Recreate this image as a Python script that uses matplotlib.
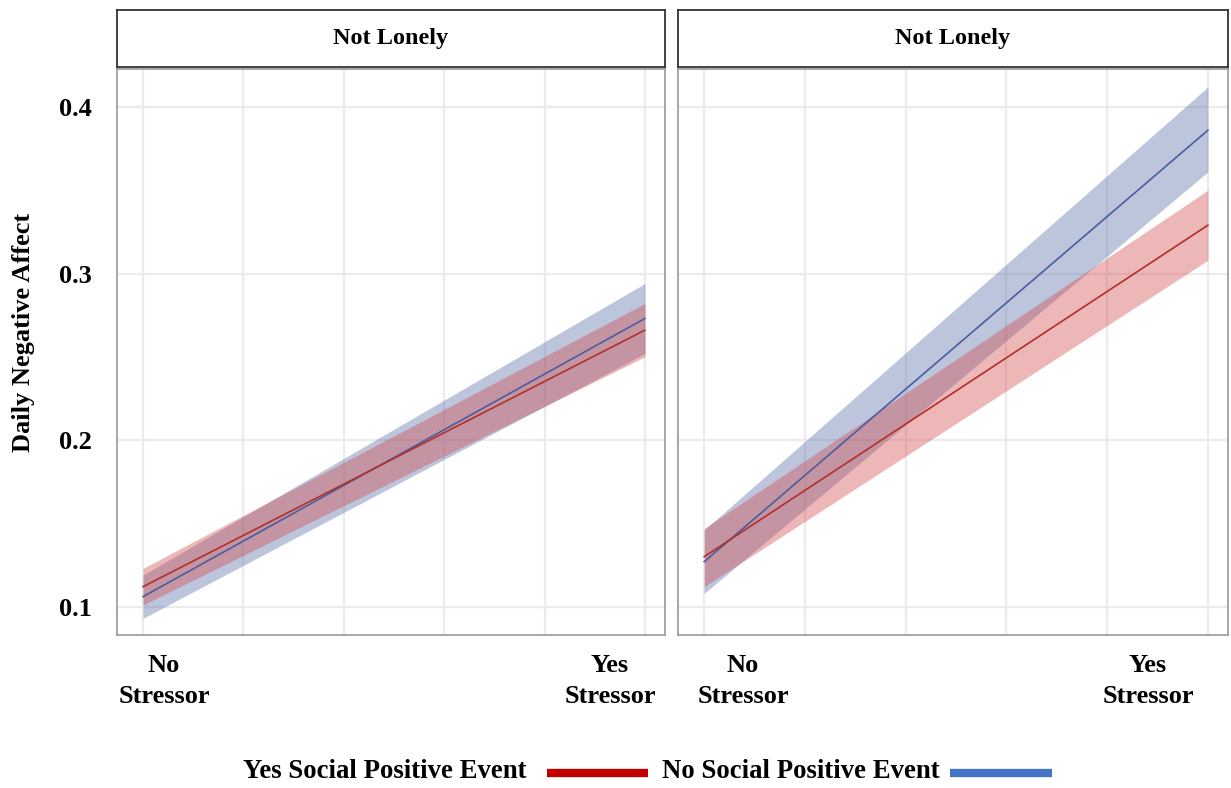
import numpy as np
import matplotlib.pyplot as plt

# Du lieu doc tu hinh (x: 0 = No Stressor, 1 = Yes Stressor)
x_pos = [0, 1]

# Panel trai
left_yes_fit = [0.112, 0.266]
left_yes_lo = [0.101, 0.250]
left_yes_hi = [0.123, 0.282]
left_no_fit = [0.106, 0.273]
left_no_lo = [0.093, 0.252]
left_no_hi = [0.119, 0.294]

# Panel phai
right_yes_fit = [0.130, 0.329]
right_yes_lo = [0.112, 0.308]
right_yes_hi = [0.147, 0.350]
right_no_fit = [0.127, 0.386]
right_no_lo = [0.108, 0.361]
right_no_hi = [0.146, 0.412]

panel_titles = ['Not Lonely', 'Not Lonely']
y_ticks = [0.1, 0.2, 0.3, 0.4]
y_ticklabels = ['0.1', '0.2', '0.3', '0.4']
legend_labels = ['Yes Social Positive Event', 'No Social Positive Event']

plt.rcParams['font.family'] = ['Liberation Serif', 'DejaVu Serif']
plt.rcParams['font.weight'] = 'bold'

fig = plt.figure(figsize=(12.31, 7.88), dpi=100)

red_line = '#B0302A'
blue_line = '#4A5C9E'
red_fill = '#D24B4B'
blue_fill = '#5A6EAA'

panels = [
    (0.0950, left_yes_fit, left_yes_lo, left_yes_hi, left_no_fit, left_no_lo, left_no_hi),
    (0.5508, right_yes_fit, right_yes_lo, right_yes_hi, right_no_fit, right_no_lo, right_no_hi),
]
widths = [0.4452, 0.4468]

for i, (left, yf, ylo, yhi, nf, nlo, nhi) in enumerate(panels):
    ax = fig.add_axes([left, 0.1942, widths[i], 0.7183])
    # vung tin cay
    ax.fill_between(x_pos, nlo, nhi, color=blue_fill, alpha=0.4, linewidth=0)
    ax.fill_between(x_pos, ylo, yhi, color=red_fill, alpha=0.4, linewidth=0)
    ax.plot(x_pos, nf, color=blue_line, linewidth=1.2)
    ax.plot(x_pos, yf, color=red_line, linewidth=1.2)
    ax.set_xlim(-0.052, 1.04)
    ax.set_ylim(0.083, 0.4228)
    ax.set_xticks([0, 0.2, 0.4, 0.6, 0.8, 1.0])
    ax.set_yticks(y_ticks)
    ax.grid(True, color='#EBEBEB', linewidth=1.6)
    ax.set_axisbelow(True)
    ax.tick_params(length=0, labelbottom=False)
    if i == 0:
        ax.set_yticklabels(y_ticklabels, fontsize=19, fontweight='bold')
        ax.tick_params(axis='y', pad=18)
    else:
        ax.set_yticklabels([])
    for s in ax.spines.values():
        s.set_color('#A0A0A0')
        s.set_linewidth(1.3)

    # khung tieu de panel
    st = fig.add_axes([left, 0.9150, widths[i], 0.0723])
    st.set_xticks([])
    st.set_yticks([])
    for s in st.spines.values():
        s.set_color('#333333')
        s.set_linewidth(1.3)
    st.text(0.5, 0.5, panel_titles[i], ha='center', va='center',
            fontsize=17.5, fontweight='bold', transform=st.transAxes)

# Nhan truc x (dat bang tay nhu hinh goc)
for xc, lab in [(164, 'No\nStressor'), (610, 'Yes\nStressor'),
                (743, 'No\nStressor'), (1148, 'Yes\nStressor')]:
    fig.text(xc / 1231, 1 - 681 / 788, lab, ha='center', va='center',
             fontsize=19, fontweight='bold', linespacing=1.4)

fig.text(24 / 1231, 1 - 332 / 788, 'Daily Negative Affect', rotation=90,
         ha='center', va='center', fontsize=19, fontweight='bold')

# Chu thich
fig.text(243 / 1231, 1 - 771 / 788, legend_labels[0], ha='left', va='center',
         fontsize=19.3, fontweight='bold')
fig.add_artist(plt.Line2D([547 / 1231, 648 / 1231], [1 - 773 / 788] * 2,
                          color='#C00000', linewidth=6, solid_capstyle='butt'))
fig.text(662 / 1231, 1 - 771 / 788, legend_labels[1], ha='left', va='center',
         fontsize=19.3, fontweight='bold')
fig.add_artist(plt.Line2D([950 / 1231, 1052 / 1231], [1 - 773 / 788] * 2,
                          color='#4472C4', linewidth=6, solid_capstyle='butt'))

fig.savefig('out.png', dpi=100)
